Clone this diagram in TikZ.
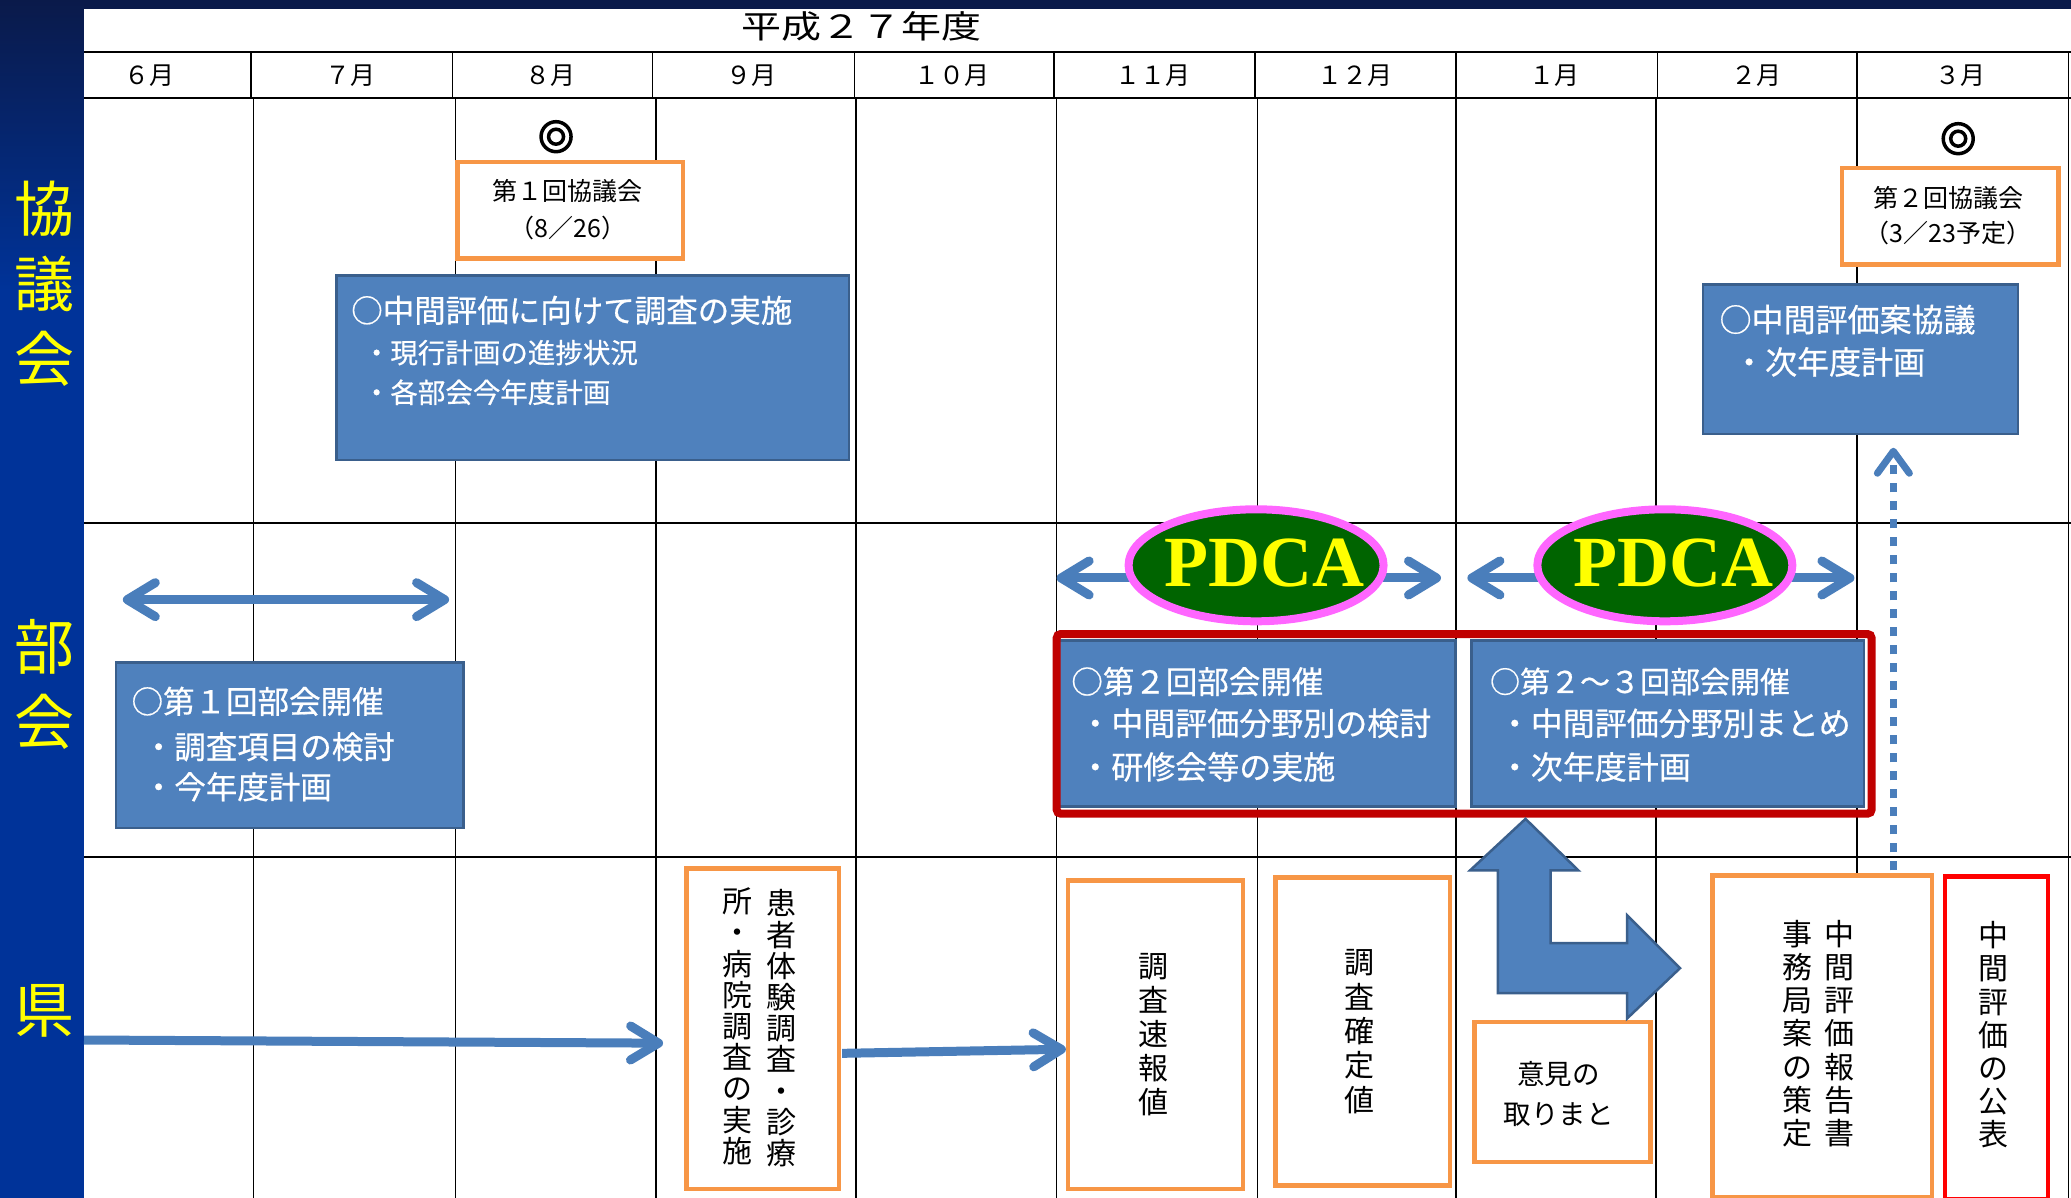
\documentclass[tikz,border=0pt]{standalone}
\usepackage{fontspec}
\setmainfont{Noto Sans CJK JP}
\newfontfamily\wfont{Noto Sans CJK JP}[FakeBold=0.6]
\newfontfamily\pdcafont{Liberation Serif}
\usetikzlibrary{arrows.meta,shapes.geometric}
\definecolor{boxblue}{HTML}{4F81BD}
\definecolor{boxedge}{HTML}{3A5F8C}
\definecolor{arrowblue}{HTML}{4A7EBB}
\definecolor{orng}{HTML}{F79646}
\definecolor{navytop}{HTML}{0A1A4A}
\definecolor{bandblue}{HTML}{003399}
\definecolor{grpred}{HTML}{C00000}
\definecolor{pubred}{HTML}{FF0000}
\definecolor{pdcagreen}{HTML}{006400}
\definecolor{pdcapink}{HTML}{FF66FF}
\definecolor{labelyellow}{HTML}{FFFF00}
\def\s{1.3208pt}
\tikzset{
  gridv/.style={line width=1.6pt, draw=black},
  gridh/.style={line width=2pt, draw=black},
  bluebox/.style={draw=boxedge, line width=2.5pt, fill=boxblue, inner sep=0pt, anchor=north west},
  obox/.style={draw=orng, line width=4.5pt, fill=white, inner sep=0pt, anchor=north west},
  rbox/.style={draw=pubred, line width=4.5pt, fill=white, inner sep=0pt, anchor=north west},
  monthlbl/.style={inner sep=0pt, font=\fontsize{25}{25}\selectfont},
  lane/.style={inner sep=0pt, align=center, text=labelyellow, font=\fontsize{60}{75}\selectfont},
  wt/.style={inner sep=0pt, anchor=west, text=white, font=\wfont\fontsize{31.5}{31.5}\selectfont},
  ws/.style={inner sep=0pt, anchor=west, text=white, font=\wfont\fontsize{31.5}{31.5}\selectfont},
  otext/.style={inner sep=0pt, align=center, font=\fontsize{25}{37}\selectfont},
  vtext/.style={inner sep=0pt, align=center, font=\fontsize{30}{34}\selectfont},
  dblarrow/.style={draw=arrowblue, line width=9pt, {Straight Barb[length=28pt,width=34pt,round]}-{Straight Barb[length=28pt,width=34pt,round]}},
  sglarrow/.style={draw=arrowblue, line width=9pt, -{Straight Barb[length=28pt,width=34pt,round]}},
  dotarrow/.style={draw=arrowblue, line width=7pt, dash pattern=on 9pt off 9pt, -{Straight Barb[length=22pt,width=32pt,round]}},
  pdcaell/.style={ellipse, draw=pdcapink, line width=8pt, fill=pdcagreen, inner sep=0pt},
  pdcatext/.style={inner sep=0pt, text=labelyellow, font=\pdcafont\bfseries\fontsize{72}{72}\selectfont},
  dmark/.style={circle, draw=black, line width=3.5pt, inner sep=0pt},
}
\begin{document}
\begin{tikzpicture}[x=1.3208pt,y=-1.3208pt]
\useasboundingbox (0,0) rectangle (1568,907);
% background
\fill[navytop] (0,0) rectangle (1568,7);
\shade[top color=navytop, bottom color=bandblue] (0,0) rectangle (63.6,220);
\fill[bandblue] (0,219) rectangle (63.6,907);
\fill[white] (63.6,7) rectangle (1568,907);
% grid
\foreach \x in {192,345,496.5,648,800,952,1102.5,1254,1406,1566}
  \draw[gridv] (\x,74.5) -- (\x,907);
\foreach \x in {190,342.5,494,647,798,950,1102.5,1255,1406,1566}
  \draw[gridv] (\x,39) -- (\x,74.5);
\foreach \y in {39,74.5,396,649}
  \draw[gridh] (63.6,\y) -- (1568,\y);
% title and months
\node[inner sep=0pt, font=\fontsize{32}{32}\selectfont] (title) at (652,20) {\scalebox{1.25}[1]{平成２７年度}};
\node[monthlbl] (m6) at (113,57.4) {６月};
\node[monthlbl] (m7) at (265,57.4) {７月};
\node[monthlbl] (m8) at (417,57.4) {８月};
\node[monthlbl] (m9) at (569,57.4) {９月};
\node[monthlbl] (m10) at (721,57.4) {１０月};
\node[monthlbl] (m11) at (873,57.4) {１１月};
\node[monthlbl] (m12) at (1026,57.4) {１２月};
\node[monthlbl] (m1) at (1177,57.4) {１月};
\node[monthlbl] (m2) at (1330,57.4) {２月};
\node[monthlbl] (m3) at (1484,57.4) {３月};
% lane labels
\node[lane] (lk) at (33.7,215) {協\\議\\会};
\node[lane] (lb) at (33.7,518.5) {部\\会};
\node[lane] (lp) at (33.7,765) {県};
% council row
\node[dmark, minimum size=30pt] (d1o) at (421,103.5) {};
\node[dmark, minimum size=15pt] (d1i) at (421,103.5) {};
\node[dmark, minimum size=30pt] (d2o) at (1482.6,105) {};
\node[dmark, minimum size=15pt] (d2i) at (1482.6,105) {};
\node[obox, minimum width=171*\s, minimum height=73*\s] (k1) at (344.5,121) {};
\node[otext] (k1t) at (430,159) {第１回協議会\\（8／26）};
\node[obox, minimum width=164*\s, minimum height=73*\s] (k2) at (1393,125.5) {};
\node[otext, font=\fontsize{25}{35}\selectfont] (k2t) at (1475,163.4) {第２回協議会\\（3／23予定）};
\node[bluebox, minimum width=388*\s, minimum height=140*\s] (eval) at (254,207.5) {};
\node[wt] (evalt) at (265.8,235) {○中間評価に向けて調査の実施};
\node[ws, font=\wfont\fontsize{27.5}{27.5}\selectfont] (evals1) at (274.6,267) {・現行計画の進捗状況};
\node[ws, font=\wfont\fontsize{27.5}{27.5}\selectfont] (evals2) at (274.6,297) {・各部会今年度計画};
\node[bluebox, minimum width=238.5*\s, minimum height=113*\s] (kplan) at (1288.5,214.5) {};
\node[wt, font=\wfont\fontsize{32}{32}\selectfont] (kplant) at (1301.8,242) {○中間評価案協議};
\node[ws, font=\wfont\fontsize{32}{32}\selectfont] (kplans) at (1312,274) {・次年度計画};
% bukai row
\coordinate (ba1) at (93,454);
\coordinate (ba2) at (340,454);
\draw[dblarrow] (ba1) -- (ba2);
\node[bluebox, minimum width=263*\s, minimum height=125.5*\s] (bk1) at (87,500.5) {};
\node[wt] (bk1t) at (99.5,531) {○第１回部会開催};
\node[ws] (bk1s1) at (108,565.4) {・調査項目の検討};
\node[ws] (bk1s2) at (108,595.7) {・今年度計画};
\coordinate (pa1) at (800,437.6);
\coordinate (pa2) at (1091,437.6);
\coordinate (pb1) at (1111,437.6);
\coordinate (pb2) at (1404,437.6);
\draw[dblarrow] (pa1) -- (pa2);
\draw[dblarrow] (pb1) -- (pb2);
\node[pdcaell, minimum width=255pt, minimum height=112pt] (pdca1) at (951,428) {};
\node[pdcatext] (pdca1t) at (957.5,426.4) {PDCA};
\node[pdcaell, minimum width=255pt, minimum height=112pt] (pdca2) at (1260.5,428) {};
\node[pdcatext] (pdca2t) at (1267,426.4) {PDCA};
\node[bluebox, minimum width=301*\s, minimum height=125.5*\s] (bk2) at (800,484) {};
\node[wt] (bk2t) at (811,516) {○第２回部会開催};
\node[ws, font=\wfont\fontsize{32}{32}\selectfont] (bk2s1) at (817,547.6) {・中間評価分野別の検討};
\node[ws, font=\wfont\fontsize{32}{32}\selectfont] (bk2s2) at (817,580.6) {・研修会等の実施};
\node[bluebox, minimum width=297.5*\s, minimum height=125.5*\s] (bk3) at (1113,484) {};
\node[wt, font=\wfont\fontsize{30}{30}\selectfont] (bk3t) at (1128,516) {○第２～３回部会開催};
\node[ws, font=\wfont\fontsize{32}{32}\selectfont] (bk3s1) at (1134.6,547.6) {・中間評価分野別まとめ};
\node[ws, font=\wfont\fontsize{32}{32}\selectfont] (bk3s2) at (1134.6,580.6) {・次年度計画};
\node[draw=grpred, line width=8pt, rounded corners=4pt, inner sep=0pt, anchor=north west, minimum width=617*\s, minimum height=136*\s] (grp) at (797,477) {};
% prefecture row
\coordinate (ka1) at (63.6,787.4);
\coordinate (ka2) at (502,789.8);
\draw[sglarrow] (ka1) -- (ka2);
\node[obox, minimum width=115.5*\s, minimum height=242.5*\s] (survey) at (518,656) {};
\node[vtext, font=\fontsize{30}{31.2}\selectfont] (survr) at (591.5,778.5) {患\\者\\体\\験\\調\\査\\・\\診\\療};
\node[vtext, font=\fontsize{30}{31.2}\selectfont] (survl) at (558,777) {所\\・\\病\\院\\調\\査\\の\\実\\施};
\coordinate (kb1) at (637.6,797.5);
\coordinate (kb2) at (807,794.4);
\draw[sglarrow] (kb1) -- (kb2);
\node[obox, minimum width=132.5*\s, minimum height=233.5*\s] (soku) at (807,665) {};
\node[vtext] (sokut) at (873.7,783.5) {調\\査\\速\\報\\値};
\node[obox, minimum width=132*\s, minimum height=233.5*\s] (kaku) at (964,662.5) {};
\node[vtext, font=\fontsize{30}{34.3}\selectfont] (kakut) at (1029,781) {調\\査\\確\\定\\値};
\node[obox, minimum width=133.5*\s, minimum height=106*\s] (iken) at (1114.5,772) {};
\node[otext, font=\fontsize{27.5}{40}\selectfont] (ikent) at (1180,828) {意見の\\取りまと};
\node[obox, minimum width=166*\s, minimum height=244*\s] (report) at (1295,661) {};
\node[vtext, font=\fontsize{30}{33.2}\selectfont] (reportr) at (1393,782.5) {中\\間\\評\\価\\報\\告\\書};
\node[vtext, font=\fontsize{30}{33.2}\selectfont] (reportl) at (1361,782.5) {事\\務\\局\\案\\の\\策\\定};
\node[rbox, minimum width=78*\s, minimum height=244*\s] (pub) at (1471,662) {};
\node[vtext, font=\fontsize{30}{33.2}\selectfont] (pubt) at (1509,783.5) {中\\間\\評\\価\\の\\公\\表};
% L-shaped block arrow
\draw[draw=boxedge, line width=2.5pt, fill=boxblue, line join=miter]
  (1155,620) -- (1195,659) -- (1174,659) -- (1174,714) -- (1232,714) -- (1232,693)
  -- (1272,733) -- (1232,771) -- (1232,752) -- (1134,752) -- (1134,659) -- (1113,659) -- cycle;
% dotted arrow
\coordinate (dbot) at (1433.5,659);
\coordinate (dtop) at (1433.5,339);
\draw[dotarrow] (dbot) -- (dtop);
\end{tikzpicture}
\end{document}
